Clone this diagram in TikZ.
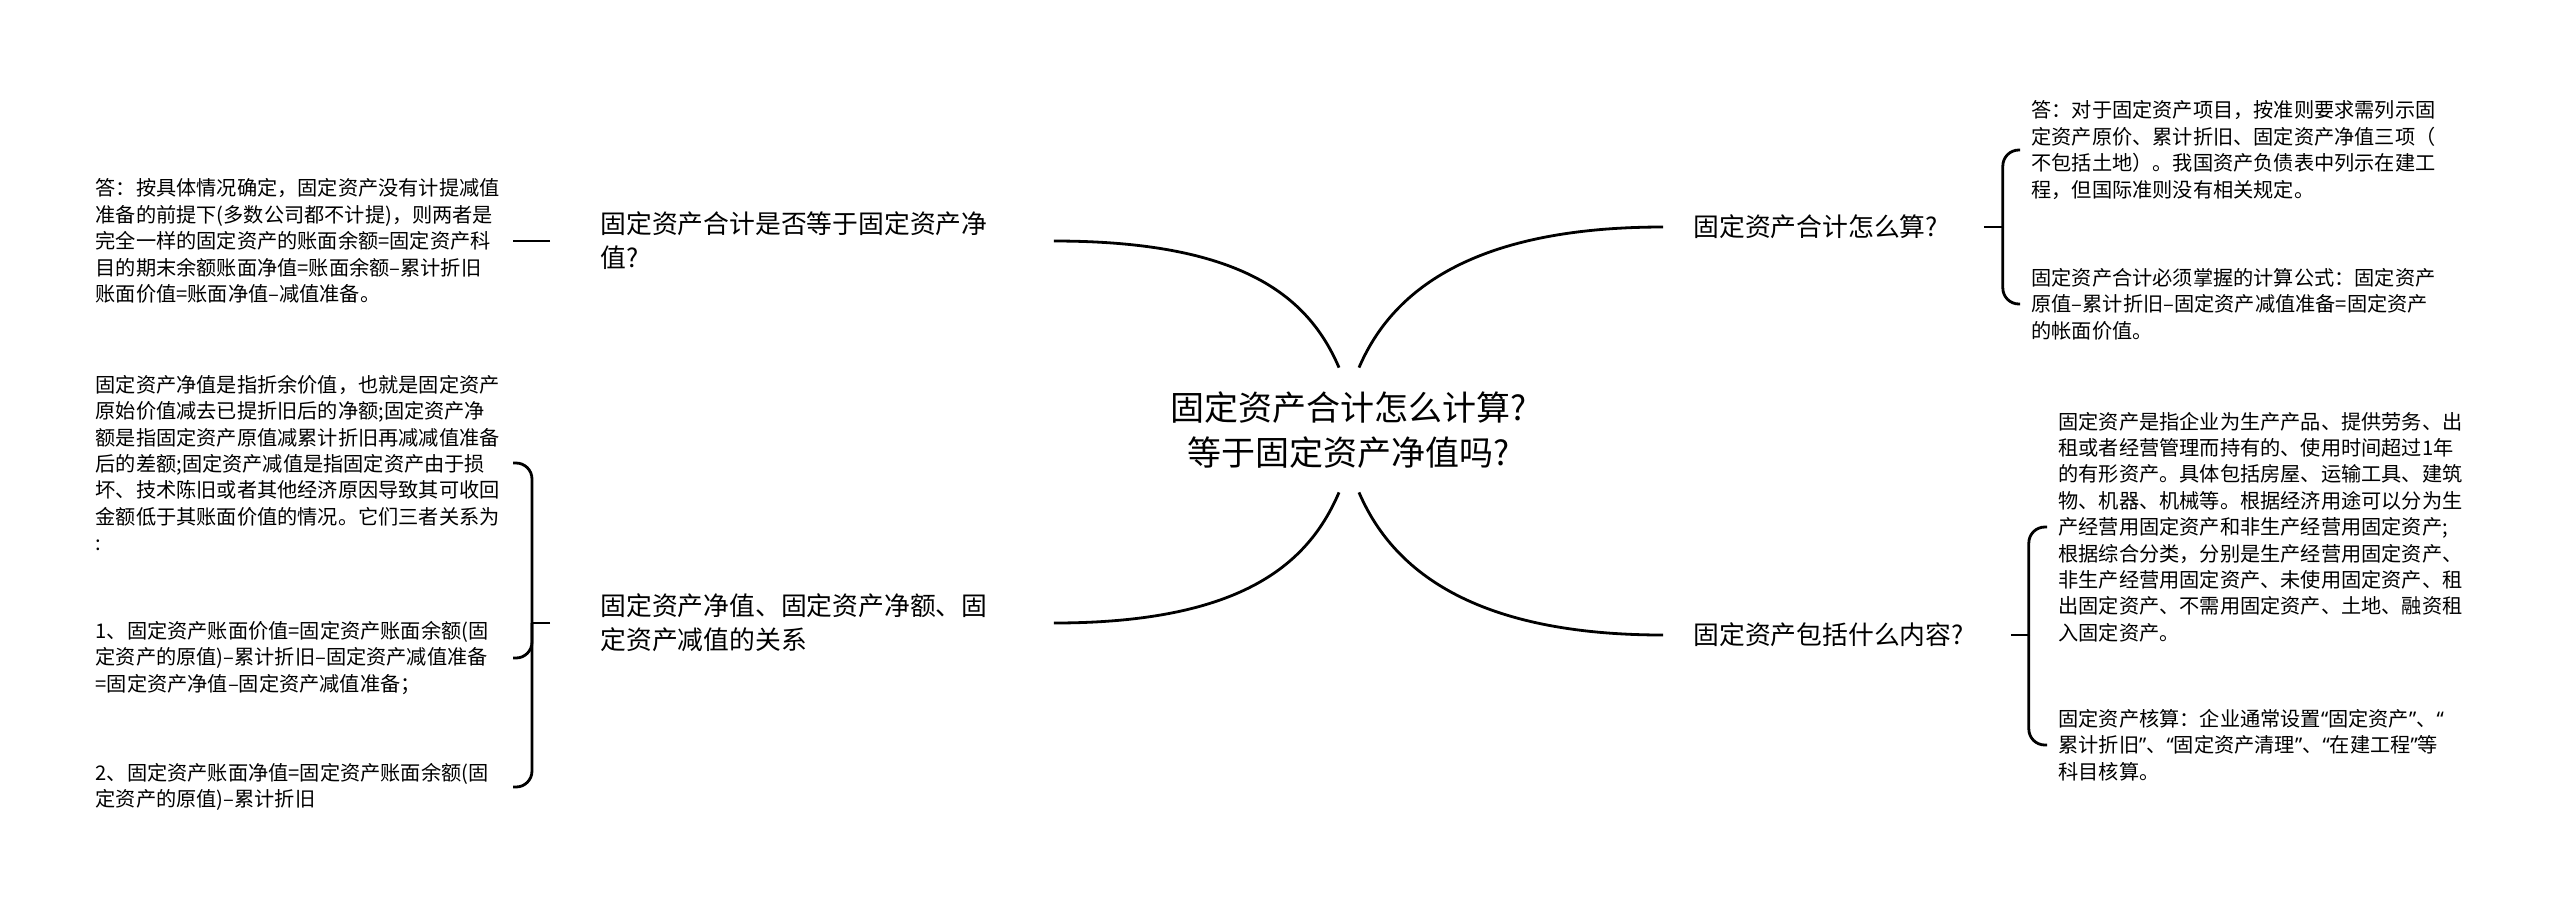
\documentclass[tikz,border=0pt]{standalone}
\usepackage{fontspec}
\setmainfont{Noto Sans CJK SC}
\newfontfamily\quotefont{Noto Sans}
\newcommand{\oq}{{\quotefont “}}
\newcommand{\cq}{{\quotefont ”}}
\usepackage{tikz}

\begin{document}
\begin{tikzpicture}[x=0.5pt,y=-0.5pt,
  rootnode/.style={inner sep=0pt,minimum height=62pt,align=center,font=\fontsize{17}{22.5}\selectfont},
  branchnode/.style={inner ysep=0pt,align=left,font=\fontsize{12.9}{17}\selectfont},
  leafnode/.style={inner ysep=0pt,inner xsep=5.5pt,text width=203pt,align=left,font=\fontsize{10.1}{13.2}\selectfont},
  linkline/.style={line width=1.4pt,black}]
\useasboundingbox (0,0) rectangle (2560,907);

\node[rootnode] (root) at (1349,430) {固定资产合计怎么计算?\\等于固定资产净值吗?};

\node[branchnode,inner xsep=25pt,text width=201.5pt,anchor=west] (b1) at (550,241) {固定资产合计是否等于固定资产净\\值?};
\node[branchnode,inner xsep=25pt,text width=201.5pt,anchor=west] (b2) at (550,623) {固定资产净值、固定资产净额、固\\定资产减值的关系};
\node[branchnode,inner xsep=15pt,text width=130pt,anchor=west] (b3) at (1663,227) {固定资产合计怎么算?};
\node[branchnode,inner xsep=15pt,text width=143.5pt,anchor=west] (b4) at (1663,635) {固定资产包括什么内容?};

\node[leafnode,anchor=east] (l1) at (513,241) {答：按具体情况确定，固定资产没有计提减值\\准备的前提下(多数公司都不计提)，则两者是\\完全一样的固定资产的账面余额=固定资产科\\目的期末余额账面净值=账面余额–累计折旧\\账面价值=账面净值–减值准备。};
\node[leafnode,anchor=east] (l2) at (513,463) {固定资产净值是指折余价值，也就是固定资产\\原始价值减去已提折旧后的净额;固定资产净\\额是指固定资产原值减累计折旧再减减值准备\\后的差额;固定资产减值是指固定资产由于损\\坏、技术陈旧或者其他经济原因导致其可收回\\金额低于其账面价值的情况。它们三者关系为\\:};
\node[leafnode,anchor=east] (l3) at (513,658) {1、固定资产账面价值=固定资产账面余额(固\\定资产的原值)–累计折旧–固定资产减值准备\\=固定资产净值–固定资产减值准备；};
\node[leafnode,anchor=east] (l4) at (513,787) {2、固定资产账面净值=固定资产账面余额(固\\定资产的原值)–累计折旧};

\node[leafnode,anchor=west] (r1) at (2020,150) {答：对于固定资产项目，按准则要求需列示固\\定资产原价、累计折旧、固定资产净值三项（\\不包括土地）。我国资产负债表中列示在建工\\程，但国际准则没有相关规定。};
\node[leafnode,anchor=west] (r2) at (2020,304) {固定资产合计必须掌握的计算公式：固定资产\\原值–累计折旧–固定资产减值准备=固定资产\\的帐面价值。};
\node[leafnode,anchor=west] (r3) at (2047,527) {固定资产是指企业为生产产品、提供劳务、出\\租或者经营管理而持有的、使用时间超过1年\\的有形资产。具体包括房屋、运输工具、建筑\\物、机器、机械等。根据经济用途可以分为生\\产经营用固定资产和非生产经营用固定资产;\\根据综合分类，分别是生产经营用固定资产、\\非生产经营用固定资产、未使用固定资产、租\\出固定资产、不需用固定资产、土地、融资租\\入固定资产。};
\node[leafnode,anchor=west] (r4) at (2047,745) {固定资产核算：企业通常设置\oq 固定资产\cq 、\oq\\累计折旧\cq 、\oq 固定资产清理\cq 、\oq 在建工程\cq 等\\科目核算。};

\draw[linkline] ([xshift=-5pt]root.north) .. controls +(-30,-70) and +(190,0) .. (b1.east);
\draw[linkline] ([xshift=-5pt]root.south) .. controls +(-30,70) and +(190,0) .. (b2.east);
\draw[linkline] ([xshift=5pt]root.north) .. controls +(30,-70) and +(-200,0) .. (b3.west);
\draw[linkline] ([xshift=5pt]root.south) .. controls +(30,70) and +(-200,0) .. (b4.west);

\draw[linkline] (b1.west) -- (l1.east);
\draw[linkline] (b2.west) -- ++(-18,0) coordinate (j2);
\foreach \leaf in {l2,l3,l4}
  \draw[linkline,rounded corners=8pt] (j2) |- (\leaf.east);
\draw[linkline] (b3.east) -- ++(19,0) coordinate (j3);
\foreach \leaf in {r1,r2}
  \draw[linkline,rounded corners=8pt] (j3) |- (\leaf.west);
\draw[linkline] (b4.east) -- ++(18,0) coordinate (j4);
\foreach \leaf in {r3,r4}
  \draw[linkline,rounded corners=8pt] (j4) |- (\leaf.west);
\end{tikzpicture}
\end{document}
